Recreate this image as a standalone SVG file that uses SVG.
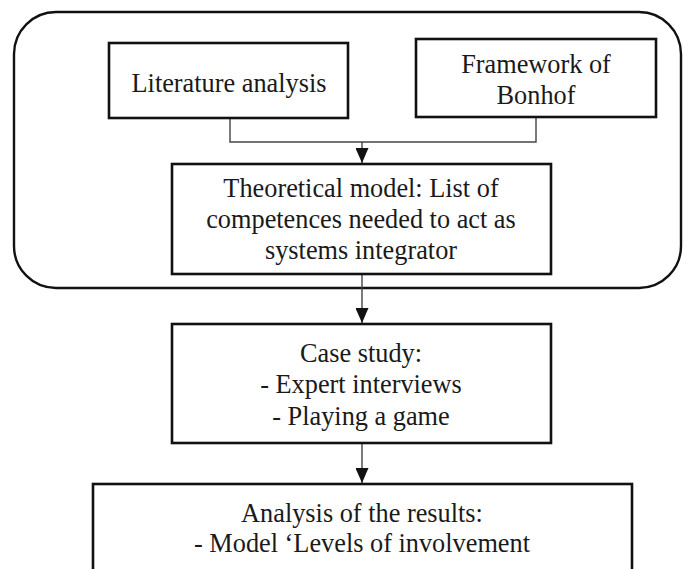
<svg xmlns="http://www.w3.org/2000/svg" width="689" height="569" viewBox="0 0 689 569">
  <style>
    .box { fill: #ffffff; stroke: #111111; stroke-width: 2.6; }
    .frame { fill: none; stroke: #111111; stroke-width: 2.4; }
    .link { fill: none; stroke: #444444; stroke-width: 1.4; }
    .label { font-family: "Liberation Serif", "Times New Roman", serif; font-size: 26.3px; fill: #1a1a1a; text-anchor: middle; }
  </style>
  <defs>
    <marker id="arrow" viewBox="0 0 15 13" refX="15" refY="6.5" markerWidth="15" markerHeight="13" markerUnits="userSpaceOnUse" orient="auto">
      <path d="M0,0 L15,6.5 L0,13 Z" fill="#111111"/>
    </marker>
  </defs>
  <rect width="689" height="569" fill="#ffffff"/>

  <!-- theory phase frame -->
  <rect id="theory-frame" class="frame" x="14" y="12" width="667" height="276" rx="42" ry="42"/>

  <g id="connectors">
    <path class="link" d="M230,118 V142 H536 V117"/>
    <path class="link" d="M362,142 V163" marker-end="url(#arrow)"/>
    <path class="link" d="M362,274 V323" marker-end="url(#arrow)"/>
    <path class="link" d="M362,443 V483" marker-end="url(#arrow)"/>
  </g>

  <g id="literature">
    <rect class="box" x="109" y="43" width="239" height="75"/>
    <text class="label" x="229" y="92">Literature analysis</text>
  </g>

  <g id="framework">
    <rect class="box" x="416" y="39" width="240" height="78"/>
    <text class="label" x="536" y="73">Framework of</text>
    <text class="label" x="536" y="104">Bonhof</text>
  </g>

  <g id="theoretical-model">
    <rect class="box" x="172" y="164" width="379" height="110"/>
    <text class="label" x="361" y="197">Theoretical model: List of</text>
    <text class="label" x="361" y="228">competences needed to act as</text>
    <text class="label" x="361" y="259">systems integrator</text>
  </g>

  <g id="case-study">
    <rect class="box" x="172" y="324" width="379" height="119"/>
    <text class="label" x="361" y="362">Case study:</text>
    <text class="label" x="361" y="393">- Expert interviews</text>
    <text class="label" x="361" y="425">- Playing a game</text>
  </g>

  <g id="analysis">
    <rect class="box" x="93" y="484" width="539" height="100"/>
    <text class="label" x="362" y="522">Analysis of the results:</text>
    <text class="label" x="362" y="552">- Model ‘Levels of involvement</text>
  </g>
</svg>
